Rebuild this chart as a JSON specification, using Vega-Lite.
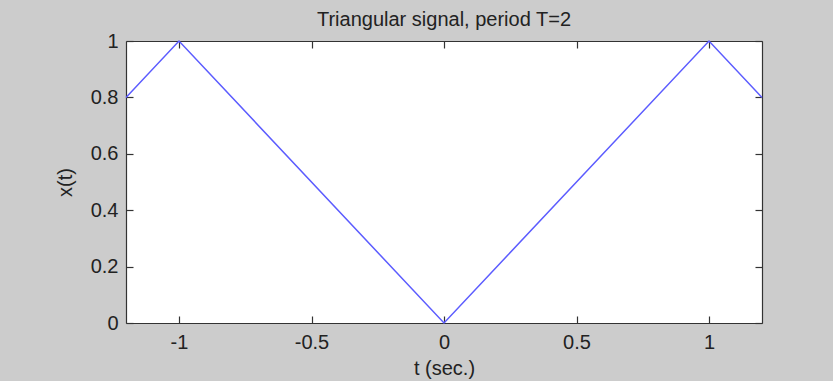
{
  "$schema": "https://vega.github.io/schema/vega-lite/v6.json",
  "width": 636,
  "height": 282,
  "autosize": {"type": "none"},
  "padding": {"left": 126, "top": 41, "right": 71, "bottom": 58},
  "background": "#cccccc",
  "config": {
    "view": {"fill": "white", "stroke": null},
    "font": "Liberation Sans",
    "axis": {
      "grid": false,
      "domainColor": "#333333",
      "domainWidth": 1.2,
      "tickColor": "#333333",
      "tickWidth": 1.2,
      "tickSize": -7,
      "labelFontSize": 20,
      "labelColor": "#222222",
      "labelFont": "Liberation Sans",
      "titleFont": "Liberation Sans",
      "titleFontSize": 20,
      "titleFontWeight": "normal",
      "titleColor": "#222222"
    }
  },
  "title": {
    "text": "Triangular signal, period T=2",
    "fontSize": 20,
    "fontWeight": "normal",
    "color": "#222222",
    "font": "Liberation Sans",
    "frame": "group",
    "offset": 1
  },
  "data": {
    "values": [
      {"t": -1.2, "x": 0.8},
      {"t": -1.0, "x": 1.0},
      {"t": 0.0, "x": 0.0},
      {"t": 1.0, "x": 1.0},
      {"t": 1.2, "x": 0.8}
    ]
  },
  "layer": [
    {
      "mark": {"type": "line", "color": "#5c5cff", "strokeWidth": 1.5},
      "encoding": {
        "x": {
          "field": "t",
          "type": "quantitative",
          "scale": {"domain": [-1.2, 1.2], "nice": false, "zero": false},
          "axis": {
            "orient": "bottom",
            "values": [-1, -0.5, 0, 0.5, 1],
            "labelExpr": "'' + datum.value",
            "labelPadding": 16,
            "title": "t (sec.)",
            "titlePadding": 6
          }
        },
        "y": {
          "field": "x",
          "type": "quantitative",
          "scale": {"domain": [0, 1], "nice": false},
          "axis": {
            "orient": "left",
            "values": [0, 0.2, 0.4, 0.6, 0.8, 1],
            "labelExpr": "'' + datum.value",
            "labelPadding": 15,
            "title": "x(t)",
            "titlePadding": 15
          }
        }
      }
    },
    {
      "mark": {"type": "line", "opacity": 0},
      "encoding": {
        "x": {
          "field": "t",
          "type": "quantitative",
          "scale": {"domain": [-1.2, 1.2], "nice": false, "zero": false},
          "axis": {"orient": "top", "values": [-1, -0.5, 0, 0.5, 1], "labels": false, "title": null}
        },
        "y": {
          "field": "x",
          "type": "quantitative",
          "scale": {"domain": [0, 1], "nice": false},
          "axis": {"orient": "right", "values": [0, 0.2, 0.4, 0.6, 0.8, 1], "labels": false, "title": null}
        }
      }
    }
  ],
  "resolve": {"axis": {"x": "independent", "y": "independent"}}
}
